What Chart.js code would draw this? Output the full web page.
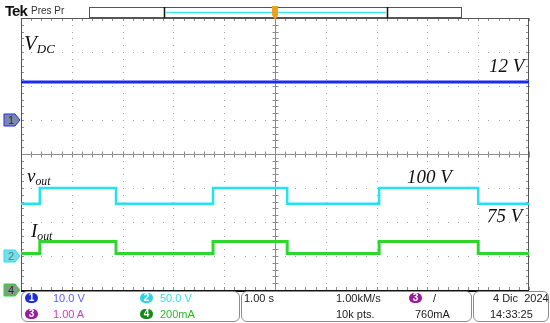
<!DOCTYPE html>
<html lang="es">
<head>
<meta charset="UTF-8">
<title>Tek - Vout / Iout</title>
<script src="https://cdn.jsdelivr.net/npm/chart.js"></script>
<style>
	body { margin: 0; background: #fff; }
	#wrap { position: relative; width: 550px; height: 323px; background: #fff; overflow: hidden; font-family: "Liberation Sans", Arial, sans-serif; }
	#scope { position: absolute; left: 0; top: 0; }
	.txt { position: absolute; white-space: nowrap; line-height: 1; }
	.ann { position: absolute; white-space: nowrap; line-height: 1; font-family: "Liberation Serif", "Times New Roman", serif; font-style: italic; color: #111; }
	.ann sub { font-size: 0.62em; vertical-align: -0.25em; }
	.box { position: absolute; border: 1px solid #8c8c8c; border-radius: 6px; box-sizing: border-box; }
	.badge { position: absolute; width: 13px; height: 10px; border-radius: 5px; color: #fff; font-size: 10px; line-height: 10px; text-align: center; font-weight: bold; }
	.st { position: absolute; font-size: 11px; line-height: 1; white-space: nowrap; color: #222; }
</style>
</head>
<body>
<div id="wrap">
	<canvas id="scope" width="550" height="323"></canvas>

	<!-- cabecera -->
	<div class="txt" style="left:5px;top:3px;font-size:15px;font-weight:bold;letter-spacing:-1px;color:#111;">Tek</div>
	<div class="txt" style="left:31px;top:6px;font-size:10px;color:#333;">Pres Pr</div>

	<!-- anotaciones -->
	<div class="ann" style="left:24px;top:33px;font-size:21px;">V<sub>DC</sub></div>
	<div class="ann" style="left:489px;top:56px;font-size:19px;">12 V</div>
	<div class="ann" style="left:27px;top:166px;font-size:19px;">v<sub>out</sub></div>
	<div class="ann" style="left:407px;top:167px;font-size:19px;">100 V</div>
	<div class="ann" style="left:487px;top:206px;font-size:19px;">75 V</div>
	<div class="ann" style="left:31px;top:221px;font-size:19px;">I<sub>out</sub></div>

	<!-- panel inferior -->
	<div class="box" style="left:21px;top:291px;width:219px;height:31px;"></div>
	<div class="box" style="left:241px;top:291px;width:231px;height:31px;"></div>
	<div class="box" style="left:473px;top:291px;width:76px;height:31px;"></div>

	<div class="badge" style="left:25px;top:293px;background:#1c2fd6;">1</div>
	<div class="st" style="left:53px;top:293px;color:#5a5cff;">10.0 V</div>
	<div class="badge" style="left:140px;top:293px;background:#2ad7dd;">2</div>
	<div class="st" style="left:160px;top:293px;color:#3fd9dc;">50.0 V</div>
	<div class="badge" style="left:25px;top:309px;background:#9a1c9c;">3</div>
	<div class="st" style="left:53px;top:309px;color:#c042c4;">1.00 A</div>
	<div class="badge" style="left:140px;top:309px;background:#168a1c;">4</div>
	<div class="st" style="left:160px;top:309px;color:#2fb52f;">200mA</div>

	<div class="st" style="left:244px;top:293px;">1.00 s</div>
	<div class="st" style="left:336px;top:293px;">1.00kM/s</div>
	<div class="st" style="left:336px;top:309px;">10k pts.</div>
	<div class="badge" style="left:409px;top:293px;background:#9a1c9c;">3</div>
	<div class="st" style="left:433px;top:293px;">/</div>
	<div class="st" style="left:415px;top:309px;">760mA</div>
	<div class="st" style="left:493px;top:293px;">4 Dic&nbsp;&nbsp;2024</div>
	<div class="st" style="left:490px;top:309px;">14:33:25</div>
</div>

<script>
	// base de tiempos: 10 divisiones de 1 s
	var timeMax = 10;
	var divisions = 8;

	// canales mostrados: 1 (Vdc), 2 (vout), 4 (iout)
	var chLabels = ['1', '2', '4'];
	var chPerDiv = [10, 50, 0.2];          // V/div, V/div, A/div
	var chPosition = [5, 1, 0];            // posición de la referencia (div desde abajo)
	var chColors = ['#1a2cf0', '#25e2f0', '#2fd62f'];
	var markerFill = ['#7c88a8', '#78dde4', '#7f9f80'];

	var vdcLevel = 11.2;                   // V
	var voutLevels = [77, 100];            // V (bajo, alto)
	var ioutLevels = [0.215, 0.285];       // A (bajo, alto)
	var edgeTimes = [0.37, 1.87, 3.78, 5.24, 7.05, 9.0];  // s, flancos

	function toDiv(ch, value) {
		return chPosition[ch] + value / chPerDiv[ch];
	}

	function stepSeries(ch, levels) {
		var pts = [{ x: 0, y: toDiv(ch, levels[0]) }];
		for (var i = 0; i < edgeTimes.length; i++) {
			pts.push({ x: edgeTimes[i], y: toDiv(ch, levels[(i + 1) % 2]) });
		}
		pts.push({ x: timeMax, y: toDiv(ch, levels[edgeTimes.length % 2]) });
		return pts;
	}

	var graticule = {
		id: 'graticule',
		beforeDatasetsDraw(chart) {
			var ctx = chart.ctx, a = chart.chartArea, x = chart.scales.x, y = chart.scales.y;
			ctx.save();
			// puntos de la retícula
			ctx.fillStyle = '#a0a0a0';
			for (var i = 1; i < timeMax; i++) {
				if (i === timeMax / 2) continue;
				var px = Math.round(x.getPixelForValue(i));
				for (var j = 0; j <= divisions * 5; j++) {
					ctx.fillRect(px, Math.round(y.getPixelForValue(j / 5)), 1, 1);
				}
			}
			for (var j = 1; j < divisions; j++) {
				if (j === divisions / 2) continue;
				var py = Math.round(y.getPixelForValue(j));
				for (var i = 0; i <= timeMax * 5; i++) {
					ctx.fillRect(Math.round(x.getPixelForValue(i / 5)), py, 1, 1);
				}
			}
			// cruz central con marcas
			var cx = Math.round(x.getPixelForValue(timeMax / 2)) + 0.5;
			var cy = Math.round(y.getPixelForValue(divisions / 2)) + 0.5;
			ctx.strokeStyle = '#8c8c8c';
			ctx.lineWidth = 1;
			ctx.beginPath();
			ctx.moveTo(cx, a.top); ctx.lineTo(cx, a.bottom);
			ctx.moveTo(a.left, cy); ctx.lineTo(a.right, cy);
			for (var i = 0; i <= timeMax * 5; i++) {
				var tx = Math.round(x.getPixelForValue(i / 5)) + 0.5;
				ctx.moveTo(tx, cy - 3); ctx.lineTo(tx, cy + 3);
				ctx.moveTo(tx, a.top); ctx.lineTo(tx, a.top + 3);
				ctx.moveTo(tx, a.bottom); ctx.lineTo(tx, a.bottom - 3);
			}
			for (var j = 0; j <= divisions * 5; j++) {
				var ty = Math.round(y.getPixelForValue(j / 5)) + 0.5;
				ctx.moveTo(cx - 3, ty); ctx.lineTo(cx + 3, ty);
				ctx.moveTo(a.left, ty); ctx.lineTo(a.left + 3, ty);
				ctx.moveTo(a.right, ty); ctx.lineTo(a.right - 3, ty);
			}
			ctx.stroke();
			// marco
			ctx.strokeStyle = '#555';
			ctx.strokeRect(a.left + 0.5, a.top + 0.5, a.right - a.left - 1, a.bottom - a.top);
			ctx.restore();
		},
		afterDraw(chart) {
			var ctx = chart.ctx, a = chart.chartArea, y = chart.scales.y, x = chart.scales.x;
			ctx.save();
			ctx.strokeStyle = '#111';
			ctx.lineWidth = 2;
			ctx.beginPath();
			ctx.moveTo(a.left, a.bottom + 1); ctx.lineTo(a.right, a.bottom + 1);
			ctx.stroke();
			// marcadores de canal a la izquierda
			for (var c = 0; c < chLabels.length; c++) {
				var my = Math.round(y.getPixelForValue(chPosition[c]));
				ctx.beginPath();
				ctx.moveTo(4, my - 6); ctx.lineTo(15, my - 6); ctx.lineTo(20, my);
				ctx.lineTo(15, my + 6); ctx.lineTo(4, my + 6); ctx.closePath();
				ctx.fillStyle = markerFill[c];
				ctx.fill();
				ctx.lineWidth = 1;
				ctx.strokeStyle = chColors[c];
				ctx.stroke();
				ctx.fillStyle = c === 1 ? '#4a7f88' : '#1f2a3a';
				ctx.font = '11px "Liberation Sans", Arial, sans-serif';
				ctx.textAlign = 'center';
				ctx.textBaseline = 'middle';
				ctx.fillText(chLabels[c], 11, my + 1);
			}
			// barra de registro y disparo
			var tx = Math.round(x.getPixelForValue(timeMax / 2));
			ctx.lineWidth = 1;
			ctx.strokeStyle = '#555';
			ctx.strokeRect(89.5, 7.5, 372, 10);
			ctx.strokeStyle = '#111';
			ctx.lineWidth = 1.5;
			ctx.beginPath();
			ctx.moveTo(164.5, 7); ctx.lineTo(164.5, 18);
			ctx.moveTo(387.5, 7); ctx.lineTo(387.5, 18);
			ctx.stroke();
			ctx.strokeStyle = '#3fe6ee';
			ctx.lineWidth = 1.5;
			ctx.beginPath();
			ctx.moveTo(166, 12.5); ctx.lineTo(386, 12.5);
			ctx.stroke();
			ctx.fillStyle = '#f0a020';
			ctx.beginPath();
			ctx.moveTo(tx - 3, 6); ctx.lineTo(tx + 3, 6); ctx.lineTo(tx + 3, 15);
			ctx.lineTo(tx, 20); ctx.lineTo(tx - 3, 15); ctx.closePath();
			ctx.fill();
			ctx.restore();
		}
	};

	var trazos = [
		[{ x: 0, y: toDiv(0, vdcLevel) }, { x: timeMax, y: toDiv(0, vdcLevel) }],
		stepSeries(1, voutLevels),
		stepSeries(2, ioutLevels)
	];

	new Chart(document.getElementById('scope'), {
		type: 'line',
		data: {
			datasets: [
				{ label: 'Vdc', data: trazos[0], borderColor: chColors[0], borderWidth: 3 },
				{ label: 'vout', data: trazos[1], borderColor: chColors[1], borderWidth: 2.5, stepped: 'before' },
				{ label: 'iout', data: trazos[2], borderColor: chColors[2], borderWidth: 3, stepped: 'before' }
			]
		},
		options: {
			responsive: false,
			animation: false,
			layout: { padding: { left: 21, top: 18, right: 21, bottom: 33 } },
			elements: { point: { radius: 0 }, line: { tension: 0 } },
			scales: {
				x: { type: 'linear', min: 0, max: timeMax, display: false },
				y: { min: 0, max: divisions, display: false }
			},
			plugins: { legend: { display: false }, tooltip: { enabled: false } }
		},
		plugins: [graticule]
	});
</script>
</body>
</html>
